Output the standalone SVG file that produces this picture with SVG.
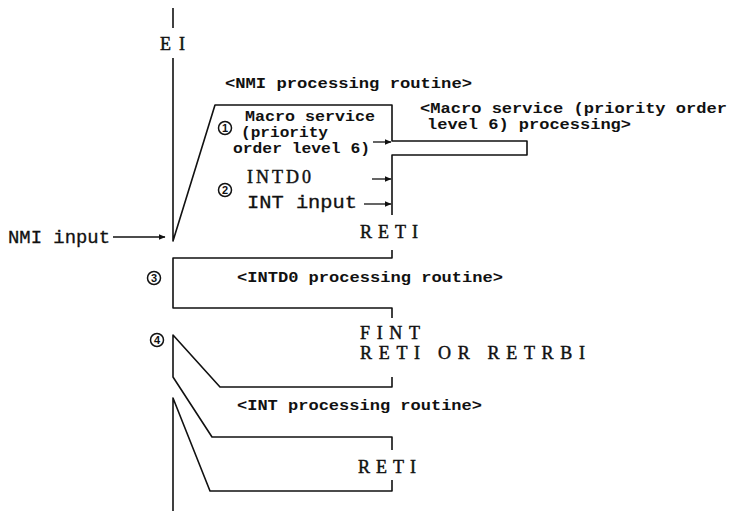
<svg xmlns="http://www.w3.org/2000/svg" width="733" height="511" viewBox="0 0 733 511">
  <style>
    .ln { fill: none; stroke: #111; stroke-width: 1.6; stroke-linejoin: round; }
    .ar { fill: none; stroke: #111; stroke-width: 1.3; }
    .lbl { font-family: "Liberation Mono", "DejaVu Sans Mono", monospace; font-weight: bold; font-size: 15px; fill: #111; }
    .big { font-family: "Liberation Mono", "DejaVu Sans Mono", monospace; font-size: 18px; fill: #111; stroke: #111; stroke-width: 0.3; }
    .typ { font-family: "Liberation Serif", "DejaVu Serif", serif; font-size: 18px; fill: #111; stroke: #111; stroke-width: 0.45; }
    .cn { fill: none; stroke: #111; stroke-width: 1.5; }
    .cd { font-family: "Liberation Sans", "DejaVu Sans", sans-serif; font-weight: bold; font-size: 11px; fill: #111; text-anchor: middle; }
  </style>
  <defs>
    <marker id="head" markerWidth="7" markerHeight="6" refX="6.5" refY="3" orient="auto" markerUnits="userSpaceOnUse">
      <path d="M0,0 L7,3 L0,6 z" fill="#111"/>
    </marker>
  </defs>
  <rect width="733" height="511" fill="#fff"/>

  <!-- execution flow lines -->
  <g id="connectors">
    <path class="ln" d="M173,8 V28"/>
    <path class="ln" d="M173,58 V241 L215,105 H392 V141 H527 V155 H392 V215"/>
    <path class="ln" d="M392,250 V258 H173 V308 H392 V318"/>
    <path class="ln" d="M392,377 V387 H220 L173,335 V377 L212,437 H392 V450"/>
    <path class="ln" d="M392,480 V491 H210 L173,398 V511"/>
    <line class="ar" x1="113" y1="237" x2="165" y2="237" marker-end="url(#head)"/>
    <line class="ar" x1="373" y1="142" x2="391" y2="142" marker-end="url(#head)"/>
    <line class="ar" x1="372" y1="179" x2="391" y2="179" marker-end="url(#head)"/>
    <line class="ar" x1="364" y1="204" x2="391" y2="204" marker-end="url(#head)"/>
  </g>

  <g id="ei">
    <text class="typ" x="160" y="50" font-size="17" textLength="25" lengthAdjust="spacing">EI</text>
  </g>

  <g id="nmi-input">
    <text class="big" x="8" y="243" textLength="102" lengthAdjust="spacingAndGlyphs">NMI input</text>
  </g>

  <g id="nmi-routine">
    <text class="lbl" x="225" y="88" textLength="247" lengthAdjust="spacingAndGlyphs">&lt;NMI processing routine&gt;</text>
    <circle class="cn" cx="225" cy="128" r="6.5"/>
    <text class="cd" x="225" y="132">1</text>
    <text class="lbl" x="245" y="121" textLength="130" lengthAdjust="spacingAndGlyphs">Macro service</text>
    <text class="lbl" x="241" y="137" textLength="87" lengthAdjust="spacingAndGlyphs">(priority</text>
    <text class="lbl" x="233" y="153" textLength="137" lengthAdjust="spacingAndGlyphs">order level 6)</text>
    <circle class="cn" cx="225" cy="190" r="6.5"/>
    <text class="cd" x="225" y="194">2</text>
    <text class="typ" x="247" y="183" font-size="16" letter-spacing="3">INTD0</text>
    <text class="big" x="247" y="208" textLength="110" lengthAdjust="spacingAndGlyphs">INT input</text>
    <text class="typ" x="360" y="238" textLength="58" lengthAdjust="spacing">RETI</text>
  </g>

  <g id="macro-service">
    <text class="lbl" x="420" y="113" textLength="307" lengthAdjust="spacingAndGlyphs">&lt;Macro service (priority order</text>
    <text class="lbl" x="427" y="129" textLength="204" lengthAdjust="spacingAndGlyphs">level 6) processing&gt;</text>
  </g>

  <g id="intd0-routine">
    <circle class="cn" cx="154" cy="278" r="6.5"/>
    <text class="cd" x="154" y="282">3</text>
    <text class="lbl" x="237" y="282" textLength="266" lengthAdjust="spacingAndGlyphs">&lt;INTD0 processing routine&gt;</text>
    <text class="typ" x="360" y="339" textLength="60" lengthAdjust="spacing">FINT</text>
    <text class="typ" x="360" y="359" textLength="225" lengthAdjust="spacing">RETI OR RETRBI</text>
  </g>

  <g id="int-routine">
    <circle class="cn" cx="157" cy="340" r="6.5"/>
    <text class="cd" x="157" y="344">4</text>
    <text class="lbl" x="237" y="410" textLength="245" lengthAdjust="spacingAndGlyphs">&lt;INT processing routine&gt;</text>
    <text class="typ" x="358" y="473" textLength="58" lengthAdjust="spacing">RETI</text>
  </g>
</svg>
